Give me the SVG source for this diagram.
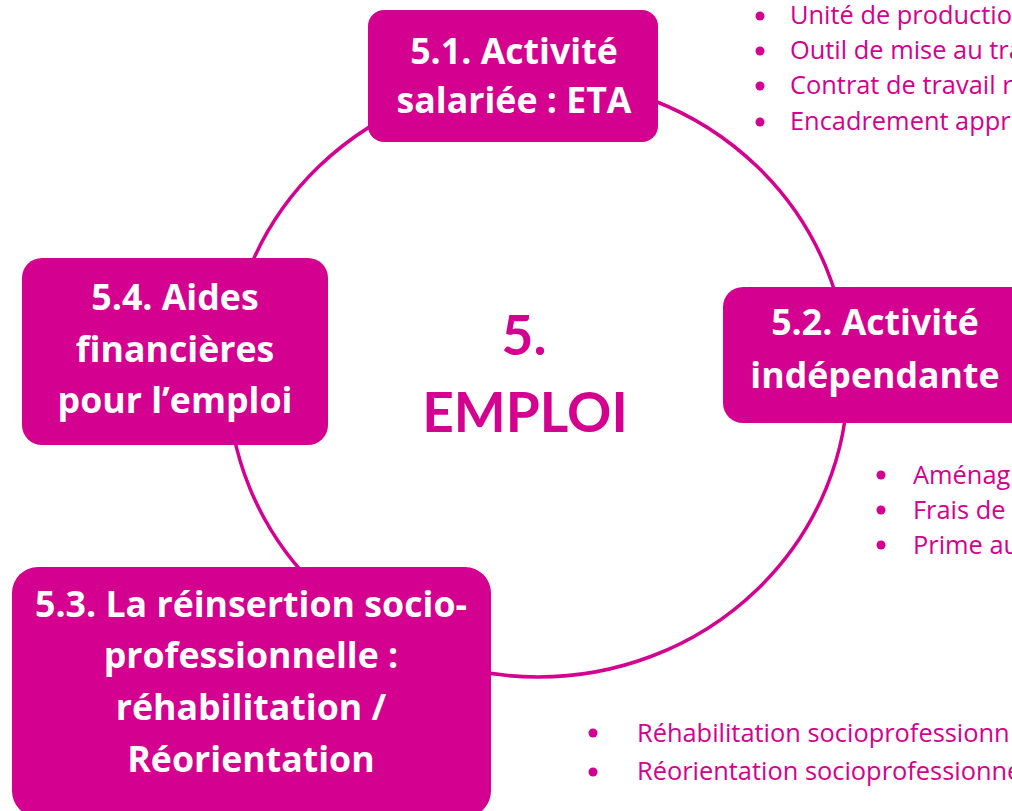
<svg xmlns="http://www.w3.org/2000/svg" width="1012" height="811" viewBox="0 0 1012 811">
<style>
.box{fill:#D4008F}
.bt{font-family:"Open Sans",Lato,"Liberation Sans",sans-serif;font-weight:bold;font-size:35.7px;fill:#ffffff;text-anchor:middle}
.ct{font-family:Lato,"Open Sans","Liberation Sans",sans-serif;font-weight:bold;font-size:55px;fill:#D4008F;text-anchor:middle}
.li{font-family:"Open Sans",Lato,"Liberation Sans",sans-serif;font-size:25.4px;fill:#D4008F}
.dot{fill:#D4008F}
</style>
<rect width="1012" height="811" fill="#ffffff"/>
<g id="connectors">
<ellipse cx="538" cy="378" rx="310" ry="299" fill="none" stroke="#D4008F" stroke-width="3.5"/>
</g>
<g id="center">
<text class="ct" x="524" y="355">5.</text>
<text class="ct" x="525" y="432">EMPLOI</text>
</g>
<g id="n51">
<rect class="box" x="368" y="10" width="290" height="132" rx="16"/>
<text class="bt" x="514" y="64">5.1. Activité</text>
<text class="bt" x="514" y="113">salariée : ETA</text>
</g>
<g id="n52">
<rect class="box" x="723" y="287" width="320" height="136" rx="20"/>
<text class="bt" x="875" y="335">5.2. Activité</text>
<text class="bt" x="875" y="388">indépendante</text>
</g>
<g id="n53">
<rect class="box" x="12" y="567" width="479" height="250" rx="26"/>
<text class="bt" x="251" y="617">5.3. La réinsertion socio-</text>
<text class="bt" x="251" y="668">professionnelle :</text>
<text class="bt" x="251" y="720">réhabilitation /</text>
<text class="bt" x="251" y="772">Réorientation</text>
</g>
<g id="n54">
<rect class="box" x="22" y="258" width="306" height="187" rx="20"/>
<text class="bt" x="175" y="310">5.4. Aides</text>
<text class="bt" x="175" y="362">financières</text>
<text class="bt" x="175" y="413">pour l’emploi</text>
</g>
<g id="list51">
<circle class="dot" cx="760" cy="16" r="4.5"/>
<circle class="dot" cx="760" cy="51" r="4.5"/>
<circle class="dot" cx="760" cy="86" r="4.5"/>
<circle class="dot" cx="760" cy="122" r="4.5"/>
<text class="li" x="790" y="24">Unité de productio</text>
<text class="li" x="790" y="59">Outil de mise au tra</text>
<text class="li" x="790" y="94">Contrat de travail r</text>
<text class="li" x="790" y="130">Encadrement appro</text>
</g>
<g id="list52">
<circle class="dot" cx="881" cy="475" r="4.5"/>
<circle class="dot" cx="881" cy="510" r="4.5"/>
<circle class="dot" cx="881" cy="545" r="4.5"/>
<text class="li" x="913" y="484">Aménag</text>
<text class="li" x="913" y="519">Frais de</text>
<text class="li" x="913" y="554">Prime au</text>
</g>
<g id="list53">
<circle class="dot" cx="593" cy="733" r="4.5"/>
<circle class="dot" cx="593" cy="772" r="4.5"/>
<text class="li" x="637" y="742">Réhabilitation socioprofessionn</text>
<text class="li" x="637" y="780">Réorientation socioprofessionne</text>
</g>
</svg>
